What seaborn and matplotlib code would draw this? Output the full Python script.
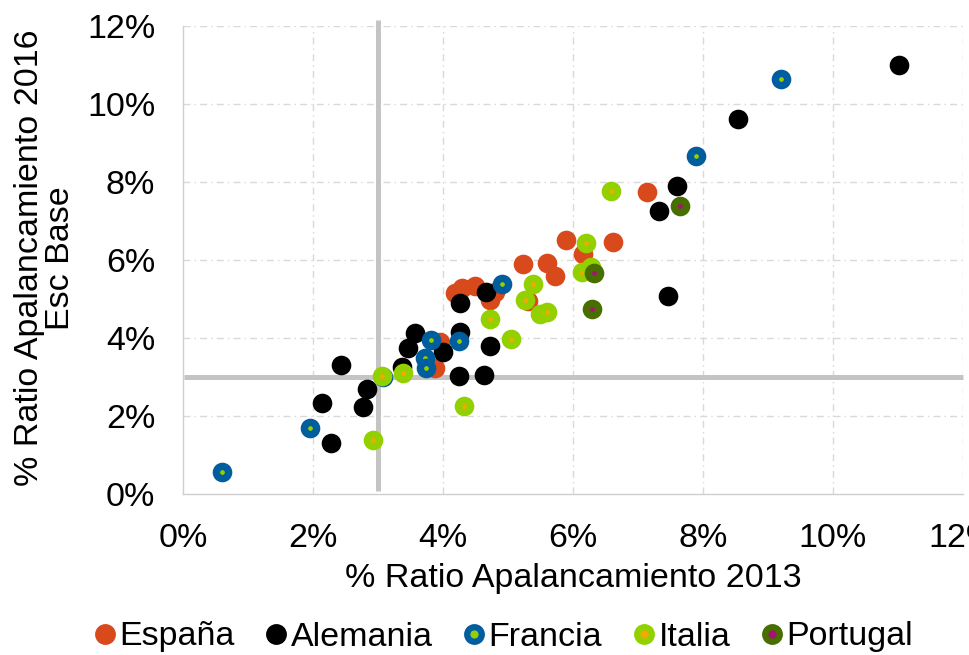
import matplotlib
matplotlib.use("Agg")
import matplotlib.pyplot as plt
from matplotlib.lines import Line2D
import seaborn as sns
import pandas as pd

# Leverage ratio (%) per bank: 2013 actual vs 2016 baseline scenario
espana_x = [4.18, 4.29, 4.49, 4.72, 4.80, 3.88, 3.95, 5.23, 5.60, 5.72, 5.31, 5.89, 6.15, 6.62, 7.14]
espana_y = [5.15, 5.28, 5.33, 4.97, 5.18, 3.23, 3.90, 5.90, 5.93, 5.60, 4.95, 6.51, 6.15, 6.46, 7.74]

alemania_x = [11.02, 8.54, 7.60, 7.32, 7.46, 2.43, 2.14, 2.28, 2.83, 2.77, 3.57, 3.46, 4.00, 3.37,
              4.26, 4.26, 4.66, 4.72, 4.25, 4.63]
alemania_y = [11.00, 9.62, 7.90, 7.26, 5.08, 3.31, 2.33, 1.31, 2.69, 2.23, 4.13, 3.74, 3.64, 3.26,
              4.90, 4.15, 5.18, 3.79, 3.03, 3.05]

francia_x = [9.20, 7.89, 4.91, 4.25, 3.82, 3.72, 3.74, 3.08, 1.95, 0.60]
francia_y = [10.64, 8.67, 5.38, 3.92, 3.95, 3.49, 3.23, 3.00, 1.69, 0.56]

italia_x = [6.58, 6.20, 6.14, 6.28, 5.38, 5.26, 5.49, 5.60, 5.05, 4.72, 3.38, 3.06, 2.92, 4.32]
italia_y = [7.77, 6.44, 5.69, 5.82, 5.38, 4.97, 4.61, 4.67, 3.97, 4.49, 3.10, 3.03, 1.38, 2.26]

portugal_x = [7.65, 6.32, 6.29]
portugal_y = [7.38, 5.67, 4.74]

countries = ["España", "Alemania", "Francia", "Italia", "Portugal"]
ring_colors = ["#D8491C", "#000000", "#005E9F", "#92D000", "#486E00"]
dot_colors = ["#D8491C", "#000000", "#92D000", "#F7A800", "#A8107A"]

threshold = 3.0
ticks = [0, 2, 4, 6, 8, 10, 12]
tick_labels = ["0%", "2%", "4%", "6%", "8%", "10%", "12%"]

frames = []
for name, xs, ys in zip(countries,
                        [espana_x, alemania_x, francia_x, italia_x, portugal_x],
                        [espana_y, alemania_y, francia_y, italia_y, portugal_y]):
    frames.append(pd.DataFrame({"x2013": xs, "y2016": ys, "pais": name}))
df = pd.concat(frames, ignore_index=True)

sns.set_style("white")
plt.rcParams["font.family"] = ["Liberation Sans", "DejaVu Sans"]
plt.rcParams["text.color"] = "black"
plt.rcParams["axes.labelcolor"] = "black"
plt.rcParams["xtick.color"] = "black"
plt.rcParams["ytick.color"] = "black"

FS = 24.5

fig = plt.figure(figsize=(9.7, 6.55), dpi=100)
ax = fig.add_axes([183 / 970, 1 - 494 / 655, 780 / 970, 468 / 655])

# dash-dot grid
grid_style = dict(color="#D9D9D9", lw=1.0, ls=(0, (5, 3, 1, 3)))
for t in ticks[1:]:
    ax.axvline(t, zorder=0, **grid_style)
    ax.axhline(t, zorder=0, **grid_style)

# 3% reference lines
ax.plot([threshold, threshold], [0.08, 12.15], color="#C4C4C4", lw=3.6,
        solid_capstyle="butt", clip_on=False, zorder=1)
ax.plot([0.02, 12.0], [threshold, threshold], color="#C4C4C4", lw=3.6,
        solid_capstyle="butt", clip_on=False, zorder=1)

# one layer per country, ring + centre dot drawn as face/edge of a single marker
for name, ring, dot in zip(countries, ring_colors, dot_colors):
    sub = df[df["pais"] == name]
    sns.scatterplot(data=sub, x="x2013", y="y2016", ax=ax, color=dot,
                    edgecolor=ring, linewidth=5.3, s=78, legend=False, zorder=3)

ax.set_xlim(0, 12)
ax.set_ylim(0, 12)
ax.set_xticks(ticks)
ax.set_xticklabels(tick_labels)
ax.set_yticks(ticks)
ax.set_yticklabels(tick_labels)
ax.tick_params(axis="x", length=0, pad=21, labelsize=FS)
ax.tick_params(axis="y", length=0, pad=20, labelsize=FS)

for side in ["top", "right"]:
    ax.spines[side].set_visible(False)
for side in ["left", "bottom"]:
    ax.spines[side].set_color("#CFCFCF")
    ax.spines[side].set_linewidth(1.0)

ax.set_xlabel("% Ratio Apalancamiento 2013", fontsize=FS, labelpad=6)
ax.set_ylabel("")
fig.text(45 / 970, 1 - 258 / 655, "% Ratio Apalancamiento 2016\nEsc Base",
         rotation=90, ha="center", va="center", fontsize=FS, linespacing=1.0,
         multialignment="center")

handles = [Line2D([], [], ls="none", marker="o", markersize=10.5,
                  markerfacecolor=dot, markeredgecolor=ring, markeredgewidth=4.5)
           for ring, dot in zip(ring_colors, dot_colors)]
fig.legend(handles, countries, loc="center", bbox_to_anchor=(505 / 970, 1 - 637 / 655),
           ncol=5, frameon=False, fontsize=FS, handlelength=0.45, handletextpad=0.2,
           columnspacing=1.0, borderpad=0)

fig.savefig("out.png", dpi=100)
